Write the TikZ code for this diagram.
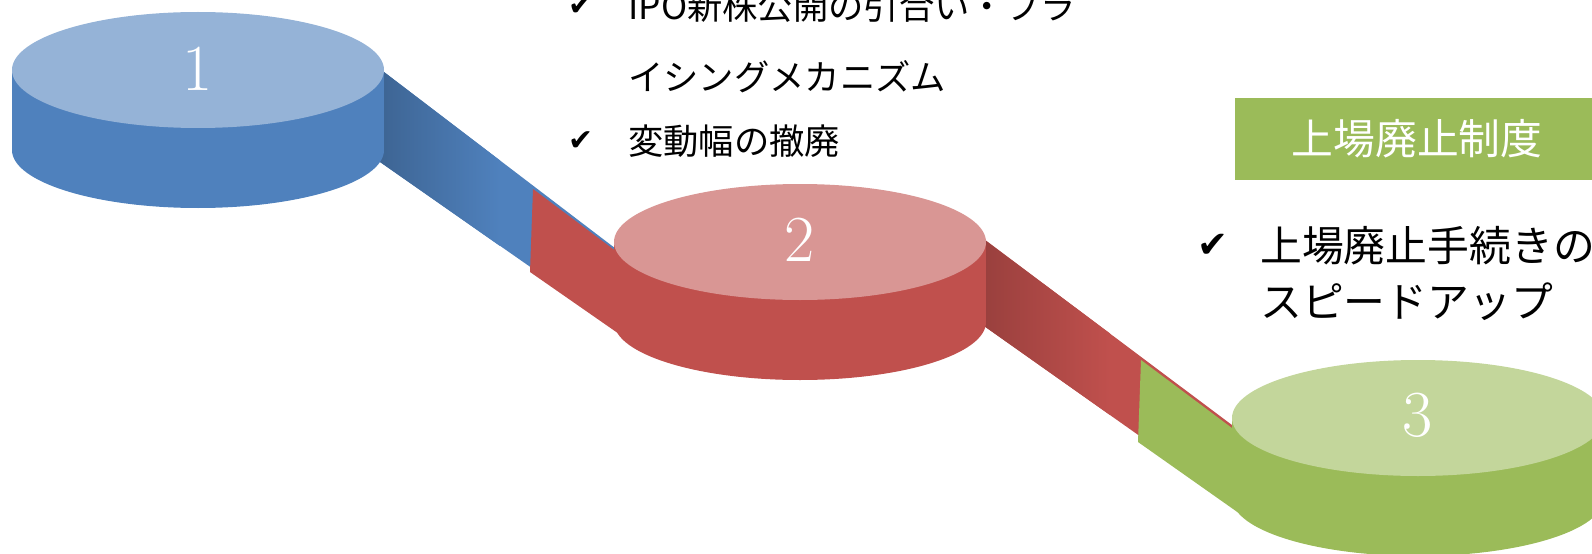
\documentclass[tikz,border=0pt]{standalone}
\usepackage{fontspec}
\newfontfamily\jpfont{Noto Sans CJK JP}
\newfontfamily\chkfont{DejaVu Sans}
\usetikzlibrary{calc,positioning}

\definecolor{stepblue}{HTML}{4F81BD}
\definecolor{stepbluetop}{HTML}{95B3D7}
\definecolor{stepred}{HTML}{C0504D}
\definecolor{stepredtop}{HTML}{D99694}
\definecolor{stepgreen}{HTML}{9BBB59}
\definecolor{stepgreentop}{HTML}{C3D69B}

\tikzset{
  numtext/.style={text=white, inner sep=0pt, font=\fontsize{37.4}{37.4}\selectfont},
  listtext/.style={anchor=west, inner sep=0pt, font=\jpfont\fontsize{20.1}{24}\selectfont},
  bigtext/.style={anchor=west, inner sep=0pt, font=\jpfont\fontsize{23.8}{28}\selectfont},
  chkmark/.style={inner sep=0pt, font=\chkfont\fontsize{17}{17}\selectfont},
  bigchk/.style={inner sep=0pt, font=\chkfont\fontsize{21}{21}\selectfont},
  titlebox/.style={fill=stepgreen, text=white, inner sep=0pt, minimum width=7.3cm,
    minimum height=1.64cm, font=\jpfont\fontsize{23.8}{28}\selectfont},
}

\begin{document}
\begin{tikzpicture}[x=0.02cm, y=-0.02cm]
    \useasboundingbox (0,0) rectangle (1592,554);
    \clip (0,0) rectangle (1592,554);

    \coordinate (c1) at (198,70);
    \coordinate (c2) at (800,242);
    \coordinate (c3) at (1418,418);

    % band from step 1 down to step 2
    \fill[stepblue] (384,72) -- (645,271) -- (645,347) -- (380,162) -- cycle;
    \shade[left color=stepblue!78!black, right color=stepblue]
        (384,72) -- (500,160.5) -- (500,246) -- (380,162) -- cycle;

    % band from step 2 down to step 3
    \fill[stepred] (985,240) -- (1260,446) -- (1260,521) -- (984,326) -- cycle;
    \shade[left color=stepred!80!black, right color=stepred]
        (985,240) -- (1110,333.5) -- (1110,415) -- (984,326) -- cycle;

    % step 1
    \fill[stepblue] ($(c1)+(0,80)$) ellipse (186 and 58);
    \fill[stepblue] ($(c1)+(-186,0)$) rectangle ($(c1)+(186,80)$);
    \fill[stepbluetop] (c1) ellipse (186 and 58);
    \node[numtext] (n1) at ($(c1)+(0,-1)$) {1};

    % step 2 with its front piece
    \fill[stepred] (533,189) -- (645,273) -- (645,352) -- (530,272) -- cycle;
    \fill[stepred] ($(c2)+(0,80)$) ellipse (186 and 58);
    \fill[stepred] ($(c2)+(-186,0)$) rectangle ($(c2)+(186,80)$);
    \fill[stepredtop] (c2) ellipse (186 and 58);
    \node[numtext] (n2) at ($(c2)+(0,-2)$) {2};

    % step 3 with its front piece
    \fill[stepgreen] (1141,360) -- (1260,449) -- (1260,528) -- (1138,442) -- cycle;
    \fill[stepgreen] ($(c3)+(0,80)$) ellipse (186 and 58);
    \fill[stepgreen] ($(c3)+(-186,0)$) rectangle ($(c3)+(186,80)$);
    \fill[stepgreentop] (c3) ellipse (186 and 58);
    \node[numtext] (n3) at ($(c3)+(0,-3)$) {3};

    % notes for step 2
    \node[listtext] (ipo1) at (628,6) {IPO新株公開の引合い・ブラ};
    \node[listtext] (ipo2) at (628,77) {イシングメカニズム};
    \node[listtext] (band) at (628,141) {変動幅の撤廃};
    \node[chkmark, left=0.68cm of ipo1] (chk1) {✔};
    \node[chkmark, left=0.68cm of band] (chk2) {✔};

    % notes for step 3
    \node[titlebox] (title) at (1417,139) {上場廃止制度};
    \node[bigtext] (delist1) at (1260,246) {上場廃止手続きの};
    \node[bigtext] (delist2) at (1260,302) {スピードアップ};
    \node[bigchk, left=0.62cm of delist1] (chk3) {✔};
\end{tikzpicture}
\end{document}
